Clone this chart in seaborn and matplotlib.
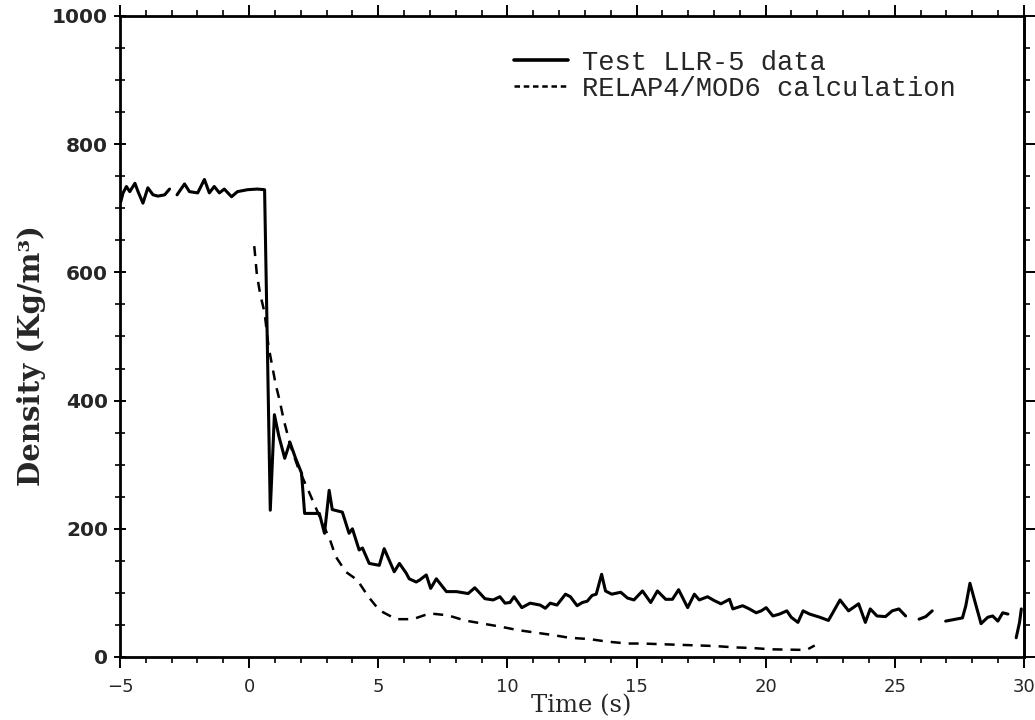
import numpy as np
import pandas as pd
import matplotlib
matplotlib.use("Agg")
import matplotlib.pyplot as plt
from matplotlib.lines import Line2D
from matplotlib.ticker import MultipleLocator
import seaborn as sns

nan = np.nan

# Test LLR-5 data (time s, density kg/m3); NaN = gap in the trace
test_t = [-4.97, -4.88, -4.75, -4.62, -4.42, -4.3, -4.11, -3.92, -3.72, -3.53, -3.27, -3.08, nan,
          -2.79, -2.5, -2.31, -1.99, -1.73, -1.54, -1.35, -1.15, -0.96, -0.68, -0.45, -0.06, 0.32, 0.6,
          0.82, 0.98, 1.15, 1.38, 1.58, 1.8, 2.03, 2.15, 2.72, 2.92,
          3.1, 3.22, 3.61, 3.87, 4.0, 4.26, 4.39, 4.65, 5.04, 5.23,
          5.62, 5.82, 6.08, 6.2, 6.47, 6.6, 6.86, 7.03, 7.25, 7.64,
          8.03, 8.48, 8.74, 9.13, 9.45, 9.71, 9.91, 10.1, 10.26, 10.56,
          10.88, 11.27, 11.47, 11.66, 11.92, 12.25, 12.44, 12.7, 12.9, 13.09,
          13.28, 13.44, 13.65, 13.8, 14.04, 14.39, 14.65, 14.9, 15.23, 15.55,
          15.81, 16.13, 16.39, 16.63, 16.98, 17.24, 17.43, 17.75, 18.01, 18.27,
          18.6, 18.73, 19.11, 19.37, 19.63, 19.83, 20.02, 20.28, 20.54, 20.82,
          20.99, 21.25, 21.45, 21.7, 22.1, 22.43, 22.88, 23.21, 23.6, 23.86,
          24.05, 24.31, 24.64, 24.9, 25.16, 25.42, nan, 25.94, 26.2, 26.45,
          nan, 26.97, 27.36, 27.62, 27.75, 27.91, 28.12, 28.34, 28.6, 28.79,
          28.99, 29.18, 29.38, nan, 29.7, 29.83, 29.9]
test_d = [710, 724, 734, 726, 739, 726, 708, 732, 721, 719, 721, 730, nan,
          721, 738, 726, 724, 745, 724, 734, 724, 730, 718, 726, 729, 730, 729,
          229, 378, 345, 310, 335, 310, 287, 224, 224, 193,
          260, 230, 226, 193, 200, 167, 170, 146, 143, 169,
          133, 146, 131, 122, 117, 120, 128, 107, 122, 102,
          102, 99, 108, 91, 89, 94, 84, 85, 94, 77,
          84, 81, 76, 84, 81, 98, 94, 80, 85, 87,
          96, 98, 129, 103, 98, 101, 92, 89, 103, 85,
          103, 90, 90, 105, 77, 98, 89, 94, 88, 83,
          90, 75, 80, 75, 69, 72, 77, 64, 67, 72,
          62, 54, 72, 67, 62, 57, 89, 72, 83, 54,
          75, 64, 63, 72, 75, 64, nan, 59, 63, 72,
          nan, 56, 59, 61, 80, 115, 84, 52, 62, 64,
          56, 69, 67, nan, 30, 54, 75]

# RELAP4/MOD6 calculation
calc_t = [0.2, 0.3, 0.43, 0.6, 0.75, 0.9, 1.03, 1.19, 1.34, 1.6,
          1.9, 2.26, 2.57, 2.85, 3.14, 3.35, 3.74, 4.19, 4.62, 5.04,
          5.69, 6.34, 6.99, 7.7, 8.35, 9.06, 9.78, 10.4, 11.1, 11.8,
          12.4, 13.16, 13.87, 14.65, 15.23, 15.94, 16.65, 17.43, 18.08, 18.79,
          19.5, 20.2, 20.86, 21.58, 21.9]
calc_d = [641, 597, 566, 537, 485, 453, 425, 399, 370, 330,
          295, 263, 234, 208, 182, 157, 133, 120, 94, 73,
          59, 59, 68, 65, 57, 52, 47, 42, 38, 34,
          30, 28, 24, 21, 21, 20, 19, 18, 17, 15,
          14, 12, 11.5, 11, 18]

x_ticks = [-5, 0, 5, 10, 15, 20, 25, 30]
y_ticks = [0, 200, 400, 600, 800, 1000]
legend_labels = ["Test LLR-5 data", "RELAP4/MOD6 calculation"]

sns.set_style("ticks")
plt.rcParams["font.family"] = ["DejaVu Sans"]

# split test data into segments at NaN gaps
test = pd.DataFrame({"t": test_t, "d": test_d})
test["seg"] = test["t"].isna().cumsum()
test = test.dropna()
calc = pd.DataFrame({"t": calc_t, "d": calc_d, "seg": 0})

fig = plt.figure(figsize=(10.35, 7.2), dpi=100)
ax = fig.add_axes([0.1159, 0.0875, 0.8734, 0.8903])

sns.lineplot(data=test, x="t", y="d", units="seg", estimator=None, sort=False,
             color="black", linewidth=2.2, legend=False, ax=ax)
sns.lineplot(data=calc, x="t", y="d", units="seg", estimator=None, sort=False,
             color="black", linewidth=1.8, dashes=False, legend=False, ax=ax)
ax.lines[-1].set_dashes((4, 3.2))

ax.set_xlim(-5, 30)
ax.set_ylim(0, 1000)
ax.set_xticks(x_ticks)
ax.set_yticks(y_ticks)
ax.xaxis.set_minor_locator(MultipleLocator(1))
ax.yaxis.set_minor_locator(MultipleLocator(50))

# x: ticks outward on bottom and top
ax.tick_params(axis="x", which="both", direction="out", top=True, bottom=True, color="black")
ax.tick_params(axis="x", which="major", length=8, width=1.4, pad=7)
ax.tick_params(axis="x", which="minor", length=4, width=1.2)
# y left: crossing ticks
ax.tick_params(axis="y", which="both", direction="inout", left=True, right=False, color="black")
ax.tick_params(axis="y", which="major", length=9, width=1.4, pad=4)
ax.tick_params(axis="y", which="minor", length=7, width=1.2)
# y right: outward ticks, no labels
rax = ax.secondary_yaxis("right")
rax.set_yticks(y_ticks)
rax.yaxis.set_minor_locator(MultipleLocator(50))
rax.tick_params(which="both", direction="out", labelright=False, color="black")
rax.tick_params(which="major", length=8, width=1.4)
rax.tick_params(which="minor", length=4, width=1.2)
rax.spines["right"].set_linewidth(2)

for lab in ax.get_xticklabels():
    lab.set_fontsize(13)
for lab in ax.get_yticklabels():
    lab.set_fontsize(14.5)
    lab.set_fontweight("bold")
for sp in ax.spines.values():
    sp.set_linewidth(2)
    sp.set_color("black")

ax.set_xlabel("Time (s)", fontsize=17.5, family="DejaVu Serif")
ax.xaxis.set_label_coords(0.51, -0.058)
ax.set_ylabel("Density (Kg/m³)", fontsize=21, family="DejaVu Serif",
              fontweight="bold", labelpad=8)
ax.yaxis.set_label_coords(-0.082, 0.47)

handles = [Line2D([], [], color="black", linewidth=2.6),
           Line2D([], [], color="black", linewidth=1.8, dashes=(2.2, 1.5))]
ax.legend(handles, legend_labels, loc="upper left", bbox_to_anchor=(0.436, 0.947),
          frameon=False, prop={"family": "Liberation Mono", "size": 19.5},
          handlelength=2.0, handletextpad=0.5, labelspacing=0.0,
          borderpad=0, borderaxespad=0)

fig.savefig("out.png", dpi=100, facecolor="white")
